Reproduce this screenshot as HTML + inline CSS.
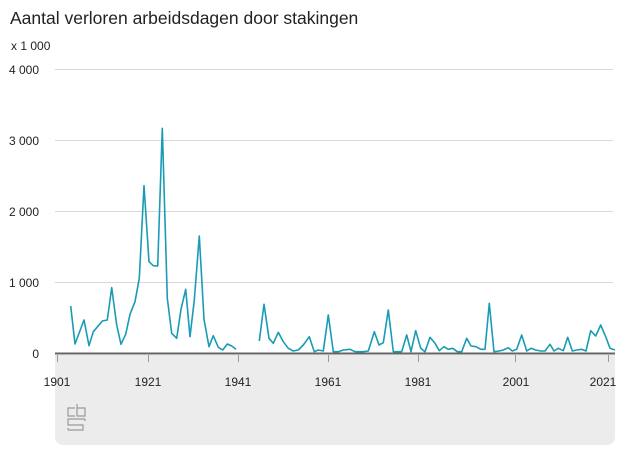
<!DOCTYPE html>
<html><head><style>
body{margin:0;background:#fff;font-family:"Liberation Sans",sans-serif;}
</style></head><body>
<svg width="627" height="470" xmlns="http://www.w3.org/2000/svg" font-family="Liberation Sans, sans-serif">
<text x="10" y="24" font-size="17.5" fill="#222">Aantal verloren arbeidsdagen door stakingen</text>
<text x="11" y="50" font-size="12" fill="#222">x 1 000</text>
<path d="M55 355 H615 V437 a8 8 0 0 1 -8 8 H63 a8 8 0 0 1 -8 -8 Z" fill="#ececec"/>
<g stroke="#d8d8d8" stroke-width="1">
<line x1="55" y1="69.5" x2="613" y2="69.5"/>
<line x1="55" y1="140.5" x2="613" y2="140.5"/>
<line x1="55" y1="211.5" x2="613" y2="211.5"/>
<line x1="55" y1="282.5" x2="613" y2="282.5"/>
</g>
<g font-size="12" fill="#222" text-anchor="end">
<text x="39" y="74">4 000</text>
<text x="39" y="145">3 000</text>
<text x="39" y="216">2 000</text>
<text x="39" y="287">1 000</text>
<text x="39" y="358">0</text>
</g>
<g stroke="#999" stroke-width="1">
<line x1="57.5" y1="355" x2="57.5" y2="362"/>
<line x1="148.5" y1="355" x2="148.5" y2="362"/>
<line x1="238.5" y1="355" x2="238.5" y2="362"/>
<line x1="328.5" y1="355" x2="328.5" y2="362"/>
<line x1="418.5" y1="355" x2="418.5" y2="362"/>
<line x1="515.5" y1="355" x2="515.5" y2="362"/>
<line x1="608.5" y1="355" x2="608.5" y2="362"/>
</g>
<g font-size="12" fill="#222" text-anchor="middle">
<text x="57" y="386">1901</text>
<text x="148" y="386">1921</text>
<text x="238" y="386">1941</text>
<text x="328" y="386">1961</text>
<text x="418" y="386">1981</text>
<text x="516" y="386">2001</text>
<text x="603" y="386">2021</text>
</g>
<g fill="none" stroke="#1a9bb5" stroke-width="1.6" stroke-linejoin="round">
<polyline points="70.7,306 75,344 84,320 89,345.7 93.3,331.7 102.3,321 107.3,320 111.7,287.7 116.7,325 121,344.3 125.7,334.3 130,314.3 135,301.7 139.3,278.3 144,185.7 149,261.7 153.3,265.7 157.7,266 162.3,128.3 167.3,298.3 171.7,333.3 176.7,338.3 181,309.3 185.7,289.3 190,336.7 194.3,300 199.3,236 204,319.3 209,346.7 213.3,335.7 218.3,347.3 222.7,350 227.3,344 231.7,346 236,349.3"/>
<polyline points="259.3,341 264,304.3 269,338.3 273.3,343.3 278.3,332.3 283.3,341.7 288.3,348.3 293.3,351 298.3,350 303.3,345 309.3,336.7 314.3,351.7 318.3,350 323.3,351 328.3,315 333.3,351.7 338.3,351.7 343.3,350 350,349.3 355,351.7 363.3,351.7 368.3,351 374.3,331.7 379,345 383.3,342.7 388.3,310 393.3,351.7 401.7,351.7 406.7,335 411,351.7 415.7,330.7 420.7,348.3 425,351.7 430,337.3 435,343.3 439.3,350.7 444,346.7 448.3,349.3 452.7,348.3 457.3,351.7 461.7,351.7 466.7,338.3 471,346 476,346.7 480.7,349.3 485,349.3 489.3,303.3 494,351.7 499.3,351 503.3,350 508.3,347.7 512.3,351 516.7,349.3 521.7,335 526.7,351 531,348.3 535.7,350 540.7,351 545,351 550,344.3 554,351 558.3,348.3 563.3,350.7 567.7,337.3 572.3,351 576.7,350 581.7,349.3 586,351 590.7,330.7 595.7,336 600.7,325 605.7,336.7 610,348.3 615,350"/>
</g>
<line x1="55" y1="353.5" x2="615" y2="353.5" stroke="#666" stroke-width="2"/>
<g fill="none" stroke="#999" stroke-width="1.2">
<path d="M75 408 h-7 v8 h7"/>
<path d="M77 404 v12 h8 v-8 h-8"/>
<path d="M85 419 h-17 v6 h15 v5 h-15"/>
<path d="M85 419 v2 M68 430 v-2"/>
</g>
</svg>
</body></html>
